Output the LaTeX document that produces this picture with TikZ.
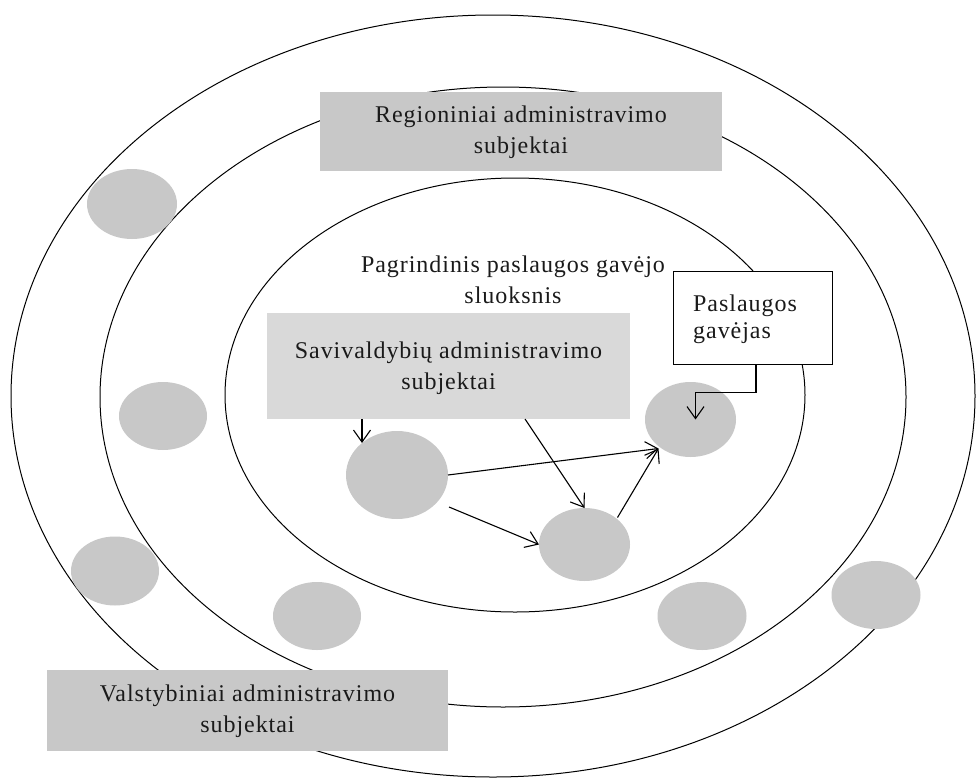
\documentclass[tikz,border=0pt]{standalone}
\usepackage{fontspec}
\setmainfont{Liberation Serif}[LetterSpace=4]
\usetikzlibrary{arrows.meta,shapes.geometric}
\definecolor{discgray}{HTML}{C8C8C8}
\definecolor{boxgray}{HTML}{C8C8C8}
\definecolor{lightbox}{HTML}{D9D9D9}
\definecolor{inkcol}{HTML}{1A1A1A}
\begin{document}
\begin{tikzpicture}[x=1pt,y=-1pt,
  ring/.style={draw=black, line width=1pt},
  disc/.style={ellipse, fill=discgray, draw=none, inner sep=0pt, outer sep=0pt},
  lab/.style={font=\fontsize{24}{31}\selectfont, text=inkcol, align=center, inner sep=0pt},
  graybox/.style={lab, rectangle, fill=boxgray, outer sep=0pt},
  arr/.style={-{Straight Barb[length=12pt,width=17pt]}, line width=1.1pt},
]
\useasboundingbox (0,0) rectangle (979,779);
\fill[white] (0,0) rectangle (979,779);

% three nested layers
\draw[ring] (493,396) ellipse [x radius=482pt, y radius=381pt];
\draw[ring] (503,397) ellipse [x radius=403pt, y radius=310pt];
\draw[ring] (515,395) ellipse [x radius=290pt, y radius=217pt];

% administrative subjects (grey discs)
\node[disc, minimum width=90pt, minimum height=70pt] (d1) at (132,204) {};
\node[disc, minimum width=88pt, minimum height=68pt] (d2) at (163,416) {};
\node[disc, minimum width=88pt, minimum height=69pt] (d3) at (115,571) {};
\node[disc, minimum width=88pt, minimum height=68pt] (d4) at (317,616) {};
\node[disc, minimum width=89pt, minimum height=68pt] (d5) at (702,616) {};
\node[disc, minimum width=89pt, minimum height=68pt] (d6) at (876,595) {};
\node[disc, minimum width=102pt, minimum height=88pt] (big) at (397,475) {};
\node[disc, minimum width=91pt, minimum height=73pt] (bot) at (584.5,544.5) {};
\node[disc, minimum width=91pt, minimum height=75pt] (tgt) at (690.5,419.5) {};

% layer captions
\node[graybox, minimum width=402pt, minimum height=79pt] (reg) at (521,131.5) {};
\node[lab] at (521,132.5) {Regioniniai administravimo\\subjektai};
\node[graybox, minimum width=401pt, minimum height=81pt] (val) at (247.5,710.5) {};
\node[lab] at (247.5,711.5) {Valstybiniai administravimo\\subjektai};
\node[graybox, fill=lightbox, minimum width=363pt, minimum height=106pt] (sav) at (448.5,366) {};
\node[lab] at (448.5,368) {Savivaldybių administravimo\\subjektai};
\node[lab] (core) at (513,280) {Pagrindinis paslaugos gavėjo\\sluoksnis};
\node[draw=black, fill=white, line width=1pt, minimum width=159pt, minimum height=93pt,
      inner sep=0pt] (pg) at (752.5,317.5) {};
\node[lab, font=\fontsize{24}{27}\selectfont, align=left, anchor=west] at (693,319)
  {Paslaugos\\gavėjas};

% flows
\draw[arr] ([xshift=-86.5pt]sav.south) -- ([shift={(-35,-32)}]big.center);
\draw[arr] ([xshift=76.5pt]sav.south) -- (bot.north);
\draw[arr] (big.east) -- ([shift={(-32,29)}]tgt.center);
\draw[arr] ([shift={(52,32)}]big.center) -- (bot.west);
\draw[arr] ([shift={(33,-27)}]bot.center) -- ([shift={(-32,29)}]tgt.center);
\draw[arr] ([xshift=3.5pt]pg.south) -- ++(0,28) -| ([xshift=5pt]tgt.center);
\end{tikzpicture}
\end{document}
